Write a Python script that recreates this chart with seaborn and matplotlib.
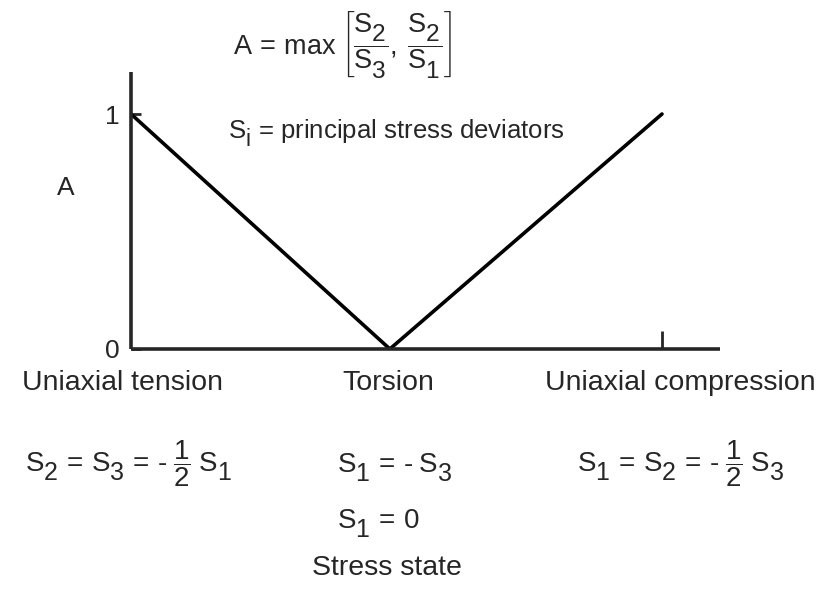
import matplotlib
matplotlib.use("Agg")
import matplotlib.pyplot as plt
import matplotlib._mathtext as mathtext_internals
import seaborn as sns
import pandas as pd

# Stress states along the horizontal axis and the corresponding value of A
states = ["Uniaxial tension", "Torsion", "Uniaxial compression"]
state_pos = [0.0, 0.975, 2.0]
a_values = [1.0, 0.0, 1.0]
y_ticks = [0, 1]
y_tick_labels = ["0", "1"]

# Stress relations written under each state
relations = [
    [r"$S_2\,=\,S_3\,=\,\text{-}\;\dfrac{1}{2}\;S_1$"],
    [r"$S_1\,=\,\text{-}\;S_3$", r"$S_1\,=\,0$"],
    [r"$S_1\,=\,S_2\,=\,\text{-}\;\dfrac{1}{2}\;S_3$"],
]

# engineering-handbook style: large, well-lowered subscripts
mathtext_internals.SHRINK_FACTOR = 0.9
mathtext_internals.FontConstantsBase.sub1 = 0.6

sns.set_style("ticks")
plt.rcParams["font.family"] = ["Liberation Sans", "DejaVu Sans"]
plt.rcParams["mathtext.fontset"] = "custom"
plt.rcParams["mathtext.rm"] = "Liberation Sans"
plt.rcParams["mathtext.it"] = "Liberation Sans"
plt.rcParams["mathtext.bf"] = "Liberation Sans:bold"
plt.rcParams["mathtext.sf"] = "Liberation Sans"

W, H = 821, 589
fig = plt.figure(figsize=(W / 100, H / 100), dpi=100)
fig.patch.set_facecolor("white")

x0, x1 = 131, 720
y_top, y_bot = 72, 349
ax = fig.add_axes([x0 / W, 1 - y_bot / H, (x1 - x0) / W, (y_bot - y_top) / H])

df = pd.DataFrame({"state": state_pos, "A": a_values})
sns.lineplot(data=df, x="state", y="A", color="black", linewidth=2.6, ax=ax)

px_per_x = (662 - 131) / 2.0
ax.set_xlim(0, (x1 - x0) / px_per_x)
ax.set_ylim(0, (y_bot - y_top) / (y_bot - 114))

for side in ["top", "right"]:
    ax.spines[side].set_visible(False)
for side in ["left", "bottom"]:
    ax.spines[side].set_linewidth(2.6)
    ax.spines[side].set_capstyle("butt")

ax.set_yticks(y_ticks)
ax.set_yticklabels(y_tick_labels, fontsize=19)
ax.tick_params(axis="y", direction="in", length=7, width=2, pad=8)
# only the compression end carries a visible tick mark
ax.set_xticks(state_pos[-1:])
ax.set_xticklabels([])
ax.tick_params(axis="x", direction="in", length=13, width=2)
ax.set_xlabel("")
ax.set_ylabel("A", rotation=0, fontsize=19, va="center", ha="center")
ax.yaxis.set_label_coords((66 - x0) / (x1 - x0), 1 - (188 - y_top) / (y_bot - y_top))

fs = 20.5
# state names under the axis
name_x = [122, 388, 680]
for name, px in zip(states, name_x):
    fig.text(px / W, 1 - 383 / H, name, ha="center", va="center", fontsize=fs)

# stress relations (torsion relations are stacked flush left)
rel_x = [128, 337, 680]
rel_ha = ["center", "left", "center"]
rel_y = [[464], [467, 523], [464]]
for rels, px, ha, pys in zip(relations, rel_x, rel_ha, rel_y):
    for r, py in zip(rels, pys):
        fig.text(px / W, 1 - py / H, r, ha=ha, va="center", fontsize=20)

fig.text(387 / W, 1 - 568 / H, "Stress state", ha="center", va="center", fontsize=fs)

# definition of A and of the deviators
fig.text(233 / W, 1 - 44 / H,
         r"$A\,=\,\mathrm{max}\;\left[\dfrac{S_2}{S_3},\;\dfrac{S_2}{S_1}\right]$",
         ha="left", va="center", fontsize=19.5)
fig.text(228 / W, 1 - 133 / H, r"$S_i$ = principal stress deviators",
         ha="left", va="center", fontsize=18.5)

fig.savefig("out.png", dpi=100, facecolor="white")
